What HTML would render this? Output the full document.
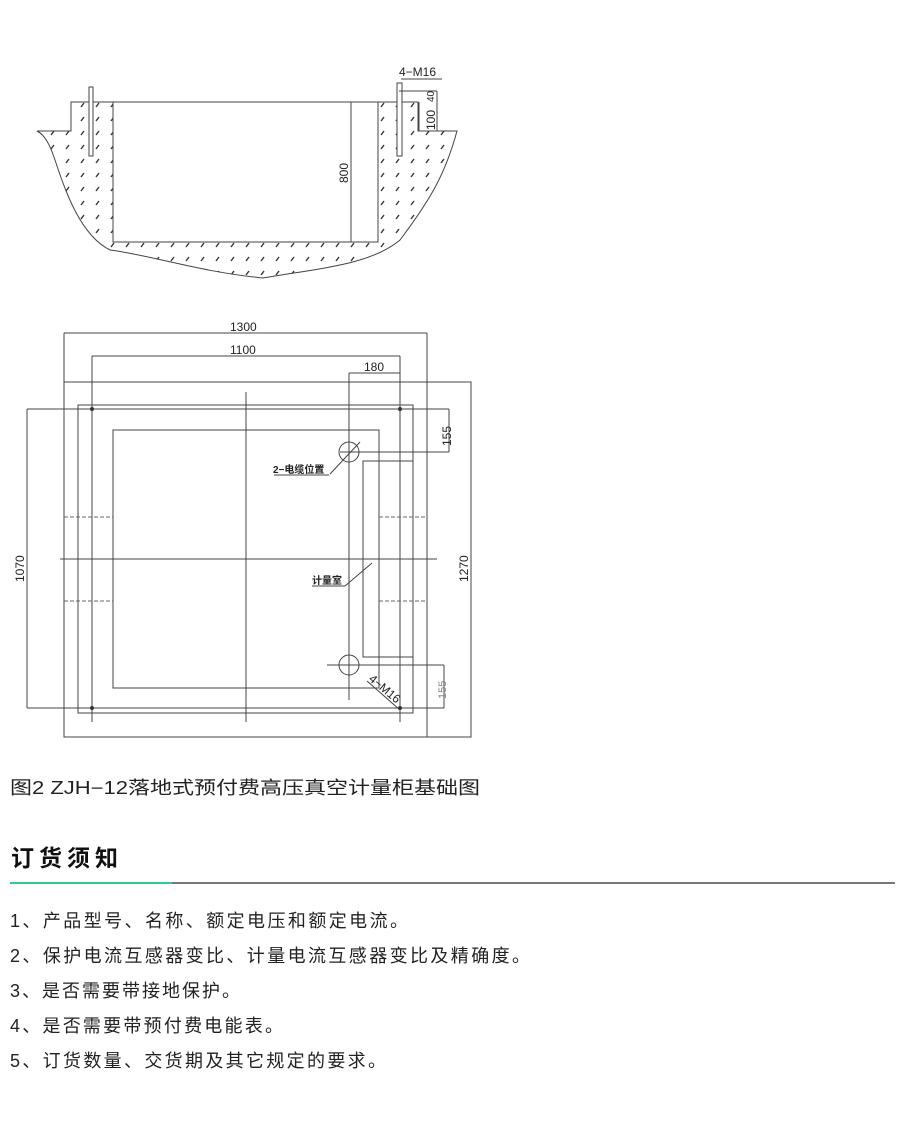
<!DOCTYPE html>
<html><head><meta charset="utf-8"><style>
html,body{margin:0;padding:0;background:#fff;}
svg{display:block;}
text{font-family:"Liberation Sans","Noto Sans CJK SC",sans-serif;fill:#222;}
</style></head><body>
<svg width="900" height="1125" viewBox="0 0 900 1125" xmlns="http://www.w3.org/2000/svg">
<defs>
<pattern id="h" width="15" height="14" patternUnits="userSpaceOnUse">
<line x1="6" y1="9" x2="9" y2="5" stroke="#333" stroke-width="1.4"/>
</pattern>
<clipPath id="gc"><path d="M37,131 L71,131 L71,102 L418,102 L418,131 L457,131 C445,175 430,200 400,240 C370,265 320,268 263,278 C200,272 150,255 110,250 C80,235 65,190 55,160 C50,145 45,135 37,131 Z"/></clipPath>
</defs>
<g fill="none" stroke="#444" stroke-width="1">
<path d="M37,131 L71,131 L71,102 L418,102 L418,131 L457,131 C445,175 430,200 400,240 C370,265 320,268 263,278 C200,272 150,255 110,250 C80,235 65,190 55,160 C50,145 45,135 37,131 Z"/>
</g>
<g clip-path="url(#gc)"><rect x="30" y="95" width="440" height="190" fill="url(#h)"/></g>
<rect x="113" y="102" width="265" height="140" fill="#fff" stroke="#444"/>
<line x1="351" y1="102" x2="351" y2="242" stroke="#444"/>
<rect x="89" y="87" width="4" height="69" fill="#fff" stroke="#444"/>
<rect x="397" y="83" width="5" height="73" fill="#fff" stroke="#444"/>
<g stroke="#444" fill="none">
<line x1="401" y1="79" x2="442" y2="79"/>
<line x1="399" y1="91" x2="437" y2="91"/>
<line x1="437" y1="91" x2="437" y2="131"/>
<line x1="419" y1="102" x2="419" y2="131"/>
</g>
<text x="399" y="76" font-size="12">4−M16</text>
<text transform="translate(435,130) rotate(-90)" font-size="12">100</text>
<text transform="translate(434,102) rotate(-90)" font-size="10">40</text>
<text transform="translate(348,183) rotate(-90)" font-size="12">800</text>

<g stroke="#444" fill="none" stroke-width="1">
<rect x="64" y="382" width="407" height="355"/>
<line x1="64" y1="333" x2="427" y2="333"/>
<line x1="64" y1="333" x2="64" y2="382"/>
<line x1="427" y1="333" x2="427" y2="737"/>
<line x1="92" y1="356" x2="400" y2="356"/>
<line x1="92" y1="356" x2="92" y2="722"/>
<line x1="400" y1="356" x2="400" y2="722"/>
<line x1="349" y1="373" x2="400" y2="373"/>
<line x1="349" y1="373" x2="349" y2="700"/>
<rect x="78" y="405" width="335" height="308"/>
<line x1="27" y1="409" x2="449" y2="409"/>
<line x1="449" y1="409" x2="449" y2="452"/>
<line x1="340" y1="452" x2="449" y2="452"/>
<line x1="27" y1="409" x2="27" y2="708"/>
<line x1="27" y1="708" x2="444" y2="708"/>
<line x1="444" y1="665" x2="444" y2="708"/>
<line x1="327" y1="665" x2="444" y2="665"/>
<rect x="113" y="430" width="266" height="258"/>
<line x1="246" y1="392" x2="246" y2="722"/>
<line x1="60" y1="559" x2="437" y2="559"/>
<rect x="363" y="461" width="50" height="196"/>
<circle cx="349" cy="452" r="10"/>
<circle cx="349" cy="665" r="10"/>
<line x1="360" y1="442" x2="330" y2="474"/>
<line x1="274" y1="475" x2="329" y2="475"/>
<line x1="372" y1="563" x2="345" y2="586"/>
<line x1="312" y1="586" x2="345" y2="586"/>
<line x1="367" y1="681" x2="400" y2="710"/>
</g>
<g stroke="#666" stroke-dasharray="4,2">
<line x1="64" y1="517" x2="113" y2="517"/><line x1="64" y1="601" x2="113" y2="601"/>
<line x1="379" y1="517" x2="427" y2="517"/><line x1="379" y1="601" x2="427" y2="601"/>
</g>
<g fill="#333">
<circle cx="92" cy="409" r="2"/><circle cx="400" cy="409" r="2"/>
<circle cx="92" cy="708" r="2"/><circle cx="400" cy="708" r="2"/>
</g>
<text x="230" y="331" font-size="12">1300</text>
<text x="230" y="354" font-size="12">1100</text>
<text x="364" y="371" font-size="12">180</text>
<text transform="translate(451,446) rotate(-90)" font-size="12">155</text>
<text transform="translate(446,699) rotate(-90)" font-size="11" style="fill:#888">155</text>
<text transform="translate(24,582) rotate(-90)" font-size="12">1070</text>
<text transform="translate(468,582) rotate(-90)" font-size="12">1270</text>
<text x="273" y="473" font-size="10" font-weight="bold">2−电缆位置</text>
<text x="312" y="584" font-size="10" font-weight="bold">计量室</text>
<text transform="translate(368,680) rotate(40)" font-size="12">4−M16</text>

<text x="10" y="794" font-size="18" textLength="470" lengthAdjust="spacingAndGlyphs">图2 ZJH−12落地式预付费高压真空计量柜基础图</text>
<text x="11" y="866" font-size="23" font-weight="bold" textLength="107" style="fill:#111">订货须知</text>
<rect x="10" y="882" width="162" height="2" fill="#2ecc8e"/>
<rect x="172" y="882" width="723" height="2" fill="#777"/>
<g font-size="18">
<text x="10" y="927" textLength="398">1、产品型号、名称、额定电压和额定电流。</text>
<text x="10" y="962" textLength="520">2、保护电流互感器变比、计量电流互感器变比及精确度。</text>
<text x="10" y="997" textLength="230">3、是否需要带接地保护。</text>
<text x="10" y="1032" textLength="273">4、是否需要带预付费电能表。</text>
<text x="10" y="1067" textLength="376">5、订货数量、交货期及其它规定的要求。</text>
</g>
</svg>
</body></html>
